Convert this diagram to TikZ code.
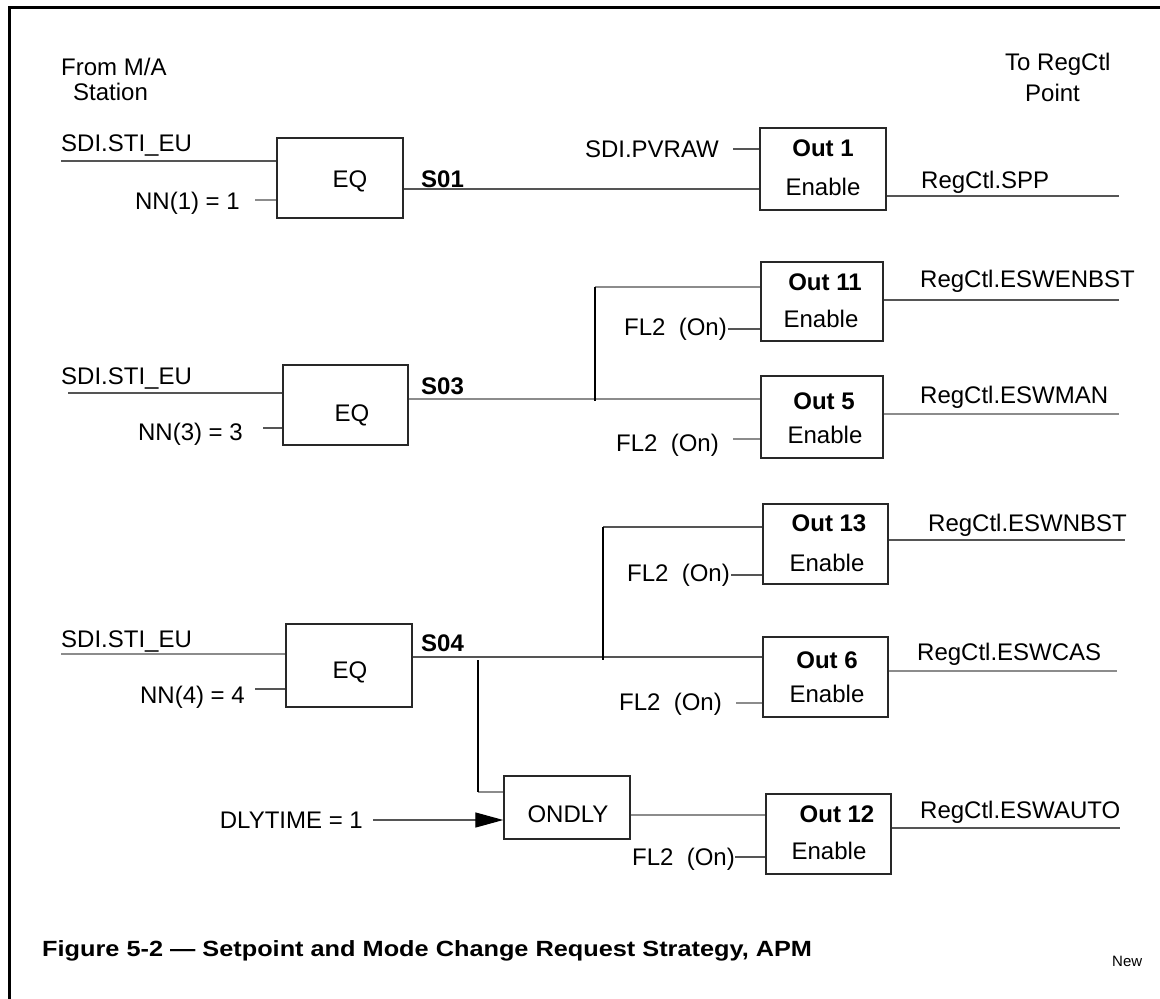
\documentclass[tikz,border=0pt]{standalone}
\usepackage{fontspec}
\setmainfont{Liberation Sans}
\newfontfamily\titlefont[FakeStretch=1.15]{Liberation Sans}
\usetikzlibrary{arrows.meta}
\definecolor{boxc}{RGB}{40,40,40}
\definecolor{wirec}{RGB}{85,85,85}
\definecolor{wirel}{RGB}{140,140,140}
\begin{document}
\begin{tikzpicture}[x=1pt,y=-1pt,
  lbl/.style={inner sep=0pt, text height=17.2pt, text depth=0pt, font=\fontsize{24}{28}\selectfont},
  blbl/.style={lbl, font=\fontsize{24}{28}\selectfont\bfseries},
  blk/.style={draw=boxc, line width=1.4pt, inner sep=0pt, rectangle},
  wire/.style={draw=wirec, line width=1.3pt},
  lwire/.style={draw=wirel, line width=1.3pt},
  bus/.style={draw=black, line width=2.6pt},
  frame/.style={draw=black, line width=3pt}]
\useasboundingbox (0,0) rectangle (1160,999);
% frame
\coordinate (ftr) at (1160,7);
\coordinate (ftl) at (9,7);
\coordinate (fbl) at (9,999);
\draw[frame] (ftr) -- (ftl) -- (fbl);

% headers
\node[lbl, anchor=west] (from1) at (61,67) {From M/A};
\node[lbl, anchor=west] (from2) at (73,92) {Station};
\node[lbl, anchor=west] (to1) at (1005,62) {To RegCtl};
\node[lbl, anchor=west] (to2) at (1025,93) {Point};

% ---------- Row 1 ----------
\node[blk, minimum width=126pt, minimum height=80pt] (eq1) at (340,178) {};
\node[lbl] (eq1t) at (350,179) {EQ};
\node[lbl, anchor=west] (sdi1) at (61,142.5) {SDI.STI\_EU};
\node[lbl, anchor=east] (nn1) at (240,201) {NN(1) = 1};
\draw[wire] (sdi1.west |- 0,161) -- (eq1.west |- 0,161);
\draw[lwire] ([xshift=15pt]nn1.east |- 0,200) -- (eq1.west |- 0,200);
\node[blbl, anchor=west] (s01) at (421,179) {S01};
\node[blk, minimum width=126pt, minimum height=82pt] (out1) at (823,169) {};
\node[blbl] (out1t) at (823,148) {Out 1};
\node[lbl] (out1e) at (823,187) {Enable};
\draw[wire] (eq1.east |- 0,189) -- (out1.west |- 0,189);
\node[lbl, anchor=east] (pvraw) at (719,149) {SDI.PVRAW};
\draw[wire] ([xshift=14pt]pvraw.east) -- (out1.west |- pvraw.east);
\draw[wire] (out1.east |- 0,196) -- (1119,196) coordinate (o1end);
\node[lbl, anchor=west] (spp) at (921,180) {RegCtl.SPP};

% ---------- Row 2 ----------
\node[blk, minimum width=125pt, minimum height=80pt] (eq2) at (345.5,405) {};
\node[lbl] (eq2t) at (352,413) {EQ};
\node[lbl, anchor=west] (sdi2) at (61,376) {SDI.STI\_EU};
\node[lbl, anchor=east] (nn3) at (243,432) {NN(3) = 3};
\draw[wire] ([xshift=7pt]sdi2.west |- 0,393) -- (eq2.west |- 0,393);
\draw[wire] ([xshift=20pt]nn3.east |- 0,428) -- (eq2.west |- 0,428);
\node[blbl, anchor=west] (s03) at (421,386) {S03};
\coordinate (b2top) at (595,287);
\coordinate (b2bot) at (595,401);
\node[blk, minimum width=122pt, minimum height=79pt] (out11) at (822,301.5) {};
\node[blbl] (out11t) at (825,282) {Out 11};
\node[lbl] (out11e) at (821,319) {Enable};
\node[blk, minimum width=122pt, minimum height=82pt] (out5) at (822,417) {};
\node[blbl] (out5t) at (824,401) {Out 5};
\node[lbl] (out5e) at (825,435) {Enable};
\draw[lwire] (eq2.east |- 0,399) -- (out5.west |- 0,399);
\draw[lwire] (b2top) -- (out11.west |- b2top);
\draw[bus] (b2top) -- (b2bot);
\node[lbl, anchor=east] (fl11) at (727,327) {FL2\ \ (On)};
\draw[wire] ([xshift=1pt]fl11.east |- 0,329) -- (out11.west |- 0,329);
\node[lbl, anchor=east] (fl5) at (719,443) {FL2\ \ (On)};
\draw[lwire] ([xshift=14pt]fl5.east |- 0,439) -- (out5.west |- 0,439);
\draw[wire] (out11.east |- 0,300) -- (1119,300) coordinate (o11end);
\node[lbl, anchor=west] (enbst) at (920,279) {RegCtl.ESWENBST};
\draw[lwire] (out5.east |- 0,414) -- (1119,414) coordinate (o5end);
\node[lbl, anchor=west] (man) at (920,395) {RegCtl.ESWMAN};

% ---------- Row 3 ----------
\node[blk, minimum width=126pt, minimum height=83pt] (eq3) at (349,665.5) {};
\node[lbl] (eq3t) at (350,670) {EQ};
\node[lbl, anchor=west] (sdi3) at (61,639) {SDI.STI\_EU};
\node[lbl, anchor=east] (nn4) at (245,695) {NN(4) = 4};
\draw[lwire] (sdi3.west |- 0,654) -- (eq3.west |- 0,654);
\draw[wire] ([xshift=10pt]nn4.east |- 0,689) -- (eq3.west |- 0,689);
\node[blbl, anchor=west] (s04) at (421,643) {S04};
\node[blk, minimum width=125pt, minimum height=80pt] (out13) at (825.5,544) {};
\node[blbl] (out13t) at (829,523) {Out 13};
\node[lbl] (out13e) at (827,563) {Enable};
\node[blk, minimum width=125pt, minimum height=80pt] (out6) at (825.5,677) {};
\node[blbl] (out6t) at (827,660) {Out 6};
\node[lbl] (out6e) at (827,694) {Enable};
\draw[wire] (eq3.east |- 0,657) -- (out6.west |- 0,657);
\coordinate (b3top) at (603,527);
\coordinate (b3bot) at (603,660);
\draw[wire] (b3top) -- (out13.west |- b3top);
\draw[bus] (b3top) -- (b3bot);
\node[lbl, anchor=east] (fl13) at (730,573) {FL2\ \ (On)};
\draw[wire] ([xshift=1pt]fl13.east |- 0,575) -- (out13.west |- 0,575);
\node[lbl, anchor=east] (fl6) at (722,702) {FL2\ \ (On)};
\draw[lwire] ([xshift=14pt]fl6.east |- 0,703) -- (out6.west |- 0,703);
\draw[wire] (out13.east |- 0,540) -- (1125,540) coordinate (o13end);
\node[lbl, anchor=west] (nbst) at (928,523) {RegCtl.ESWNBST};
\draw[lwire] (out6.east |- 0,671) -- (1117,671) coordinate (o6end);
\node[lbl, anchor=west] (cas) at (917,652) {RegCtl.ESWCAS};

% ONDLY branch
\node[blk, minimum width=126pt, minimum height=63pt] (ondly) at (567,807.5) {};
\node[lbl] (ondlyt) at (568,814) {ONDLY};
\coordinate (b4top) at (478,660);
\coordinate (b4bot) at (478,792);
\draw[lwire] (b4bot) -- (ondly.west |- b4bot);
\draw[bus] (b4top) -- (b4bot);
\node[lbl, anchor=east] (dly) at (363,820) {DLYTIME = 1};
\draw[wire, -{Triangle[length=28pt,width=15pt,color=black]}] ([xshift=10pt]dly.east) -- (ondly.west |- dly.east);
\node[blk, minimum width=125pt, minimum height=80pt] (out12) at (828.5,834) {};
\node[blbl] (out12t) at (837,814) {Out 12};
\node[lbl] (out12e) at (829,851) {Enable};
\draw[lwire] (ondly.east |- 0,815) -- (out12.west |- 0,815);
\node[lbl, anchor=east] (fl12) at (735,857) {FL2\ \ (On)};
\draw[wire] (fl12.east) -- (out12.west |- fl12.east);
\draw[wire] (out12.east |- 0,828) -- (1120,828) coordinate (o12end);
\node[lbl, anchor=west] (auto) at (920,810) {RegCtl.ESWAUTO};

% caption
\node[anchor=west, inner sep=0pt, text height=15.8pt, text depth=0pt,
  font=\titlefont\bfseries\fontsize{22}{26}\selectfont] (title) at (42,949)
  {Figure 5-2 — Setpoint and Mode Change Request Strategy, APM};
\node[anchor=west, inner sep=0pt, text height=10.7pt, text depth=0pt,
  font=\fontsize{15}{18}\selectfont] (new) at (1112,961) {New};
\end{tikzpicture}
\end{document}
